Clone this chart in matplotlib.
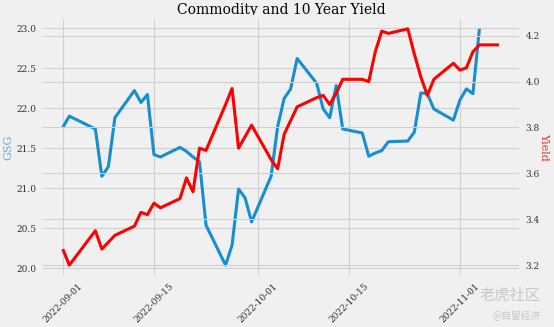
import matplotlib
matplotlib.use('Agg')
from matplotlib import pyplot as plt
import matplotlib.dates as mdates
import numpy as np
import pandas as pd

# GSG closing prices
gsg_dates = ['2022-09-01', '2022-09-02', '2022-09-06', '2022-09-07', '2022-09-08',
             '2022-09-09', '2022-09-12', '2022-09-13', '2022-09-14', '2022-09-15',
             '2022-09-16', '2022-09-19', '2022-09-20', '2022-09-21', '2022-09-22',
             '2022-09-23', '2022-09-26', '2022-09-27', '2022-09-28', '2022-09-29',
             '2022-09-30', '2022-10-03', '2022-10-04', '2022-10-05', '2022-10-06',
             '2022-10-07', '2022-10-10', '2022-10-11', '2022-10-12', '2022-10-13',
             '2022-10-14', '2022-10-17', '2022-10-18', '2022-10-19', '2022-10-20',
             '2022-10-21', '2022-10-24', '2022-10-25', '2022-10-26', '2022-10-27',
             '2022-10-28', '2022-10-31', '2022-11-01', '2022-11-02', '2022-11-03',
             '2022-11-04']
gsg = [21.76, 21.90, 21.74, 21.15, 21.27,
       21.88, 22.22, 22.07, 22.17, 21.42,
       21.39, 21.51, 21.46, 21.39, 21.33,
       20.54, 20.04, 20.29, 20.99, 20.88,
       20.58, 21.15, 21.77, 22.12, 22.24,
       22.62, 22.31, 21.99, 21.88, 22.28,
       21.74, 21.69, 21.40, 21.44, 21.47,
       21.58, 21.59, 21.70, 22.19, 22.18,
       21.99, 21.85, 22.10, 22.24, 22.18,
       22.99]

# 10 year treasury yield
yield_dates = gsg_dates + ['2022-11-07']
yield_10y = [3.27, 3.20, 3.35, 3.27, 3.30,
             3.33, 3.37, 3.43, 3.42, 3.47,
             3.45, 3.49, 3.58, 3.52, 3.71,
             3.70, 3.90, 3.97, 3.71, 3.76,
             3.81, 3.66, 3.62, 3.77, 3.83,
             3.89, 3.93, 3.94, 3.90, 3.95,
             4.01, 4.01, 4.00, 4.13, 4.22,
             4.21, 4.23, 4.12, 4.02, 3.94,
             4.01, 4.08, 4.05, 4.06, 4.13,
             4.16, 4.16]

plt.style.use('fivethirtyeight')
plt.rcParams['font.family'] = 'DejaVu Serif'
plt.rcParams['figure.facecolor'] = '#f0f0f0'
plt.rcParams['axes.facecolor'] = '#f0f0f0'

fig, ax = plt.subplots(figsize=(5.54, 3.27), dpi=100)
fig.subplots_adjust(left=0.074, right=0.94, top=0.948, bottom=0.153)

ax.plot(pd.to_datetime(gsg_dates), gsg, color='#168fd2', lw=2.2)
ax.set_ylabel('GSG', color='#6aa6d6', fontsize=8, labelpad=2)
ax.tick_params(axis='both', labelsize=6.5, colors='#333333')
ax.grid(True, color='#d0d0d0', lw=0.8)

ax2 = ax.twinx()
ax2.plot(pd.to_datetime(yield_dates), yield_10y, color='red', lw=2.2)
ax2.set_ylabel('Yield', color='#e03030', fontsize=8, rotation=270, labelpad=3,
               va='center')
ax2.tick_params(axis='y', labelsize=6.5, colors='#333333')
ax2.grid(True, color='#d0d0d0', lw=0.8)

ax.xaxis.set_major_locator(mdates.DayLocator(bymonthday=[1, 15]))
ax.xaxis.set_major_formatter(mdates.DateFormatter('%Y-%m-%d'))
for lbl in ax.get_xticklabels():
    lbl.set_rotation(45)
    lbl.set_ha('center')

ax.set_title('Commodity and 10 Year Yield', fontsize=10, pad=2)

# site watermark
fig.text(0.975, 0.085, '老虎社区', fontsize=11, color='#c8c8c8', ha='right',
         family=['Noto Sans CJK SC', 'DejaVu Sans'])
fig.text(0.975, 0.025, '@自留经济', fontsize=7, color='#c8c8c8', ha='right',
         family=['Noto Sans CJK SC', 'DejaVu Sans'])

fig.savefig('out.png', dpi=100, facecolor=fig.get_facecolor())
